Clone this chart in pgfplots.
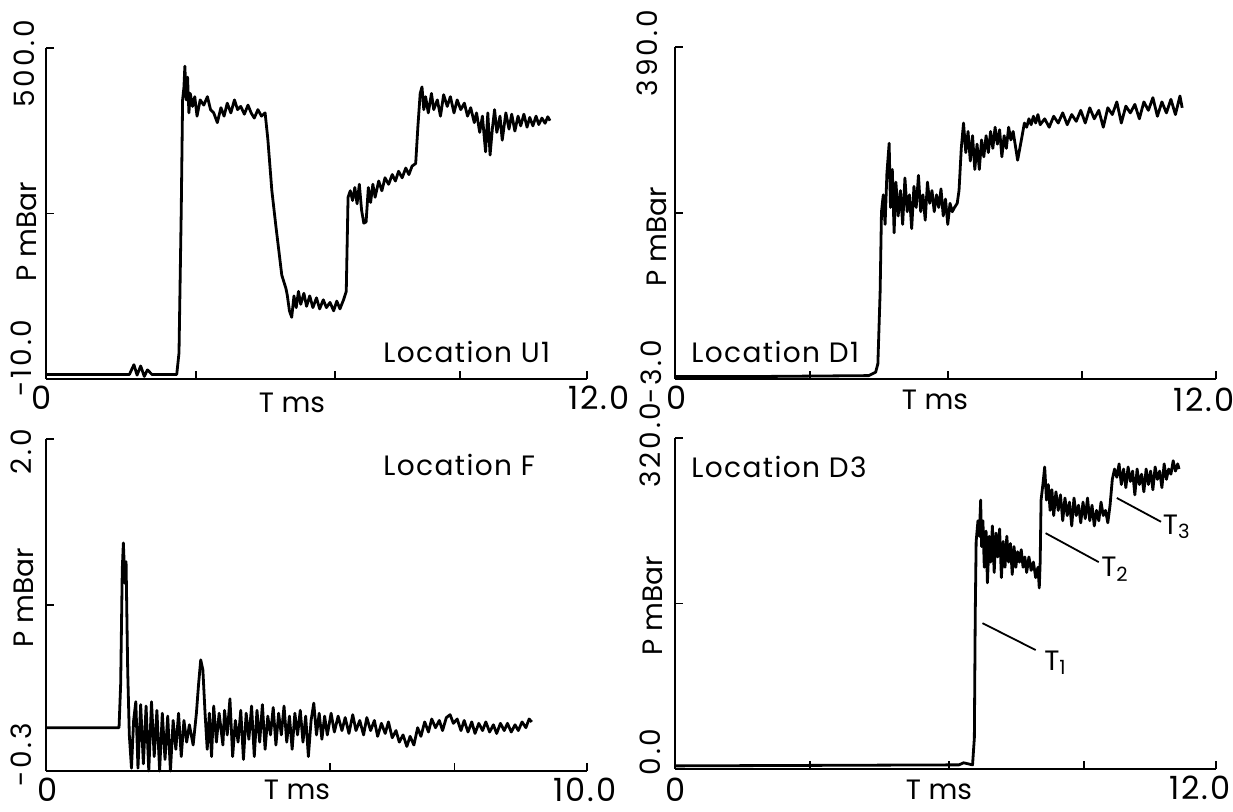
\documentclass[border=0pt]{standalone}
\usepackage{fontspec}
\setmainfont{Poppins}
\usepackage{pgfplots}
\pgfplotsset{compat=1.18}
\pgfplotsset{panel/.style={scale only axis, width=270.5pt, height=165.5pt,
  axis x line*=bottom, axis y line*=left, axis line style={line width=1pt,-},
  tick align=inside, major tick length=4pt, tick style={line width=0.9pt,black},
  xticklabels={}, yticklabels={}, clip=false, anchor=south west},
  trace/.style={black, line width=1.4pt, no markers, line join=round}}
\newcommand{\tk}{\fontsize{16}{16}\selectfont\addfontfeature{LetterSpace=6}}
\newcommand{\yk}{\fontsize{14}{14}\selectfont\addfontfeature{LetterSpace=10}}
\newcommand{\lc}{\fontsize{14}{14}\selectfont\addfontfeature{LetterSpace=5}}
\newcommand{\lb}{\fontsize{14}{14}\selectfont}
\begin{document}
\begin{tikzpicture}
\useasboundingbox (0,0) rectangle (616.5pt,406pt);
% ---------------- Panel 1: Location U1
\begin{axis}[panel, at={(23pt,216.5pt)}, height=165.5pt,
  xmin=0, xmax=12, ymin=-10, ymax=500,
  xtick={0,3.33,6.41,9.18,12}, ytick={-10,245,500}]
\addplot[trace] coordinates {
(0,-3)(1.0,-3)(1.85,-3)(1.95,12)(2.02,-4)(2.1,10)(2.18,-6)(2.25,4)(2.35,-3)(2.9,-3)
(2.95,30)(3.0,250)(3.03,420)(3.06,440)(3.08,472)(3.11,420)(3.14,455)(3.17,400)(3.2,430)
(3.25,410)(3.3,425)(3.35,395)(3.42,420)(3.5,412)(3.58,425)(3.65,405)(3.72,400)(3.8,385)
(3.88,408)(3.95,395)(4.02,415)(4.1,400)(4.18,420)(4.25,405)(4.32,410)(4.4,398)(4.48,412)
(4.55,400)(4.62,392)(4.7,405)(4.78,395)(4.86,400)(4.92,360)(5.01,280)(5.10,225)(5.23,150)
(5.32,130)(5.35,120)(5.4,95)(5.45,85)(5.5,118)(5.55,100)(5.6,125)(5.65,105)(5.72,122)
(5.78,102)(5.85,118)(5.92,100)(6.0,115)(6.07,98)(6.15,112)(6.22,100)(6.3,108)(6.38,95)
(6.45,110)(6.52,98)(6.6,112)(6.66,125)(6.7,270)(6.75,280)(6.8,265)(6.85,285)(6.9,260)
(6.95,290)(7.0,250)(7.05,230)(7.1,232)(7.15,285)(7.2,262)(7.25,290)(7.3,270)(7.38,295)
(7.45,280)(7.52,300)(7.6,290)(7.68,305)(7.75,295)(7.82,310)(7.9,300)(7.98,315)(8.05,305)
(8.12,318)(8.2,322)(8.25,380)(8.3,430)(8.34,440)(8.38,405)(8.42,425)(8.48,400)(8.55,430)
(8.6,405)(8.68,420)(8.75,395)(8.82,428)(8.9,410)(8.97,425)(9.05,400)(9.12,420)(9.2,405)
(9.28,415)(9.35,395)(9.42,408)(9.5,385)(9.55,400)(9.62,370)(9.68,395)(9.75,340)(9.8,400)
(9.85,335)(9.9,375)(9.95,405)(10.0,370)(10.07,395)(10.12,358)(10.2,400)(10.27,375)(10.33,398)
(10.4,372)(10.47,395)(10.53,380)(10.6,398)(10.67,378)(10.73,393)(10.8,380)(10.87,395)
(10.93,382)(11.0,392)(11.07,384)(11.13,394)(11.18,388)};
\end{axis}
% ---------------- Panel 2: Location D1
\begin{axis}[panel, at={(337.5pt,216.5pt)}, height=166pt,
  xmin=0, xmax=12, ymin=-3, ymax=390,
  xtick={0,3,6.06,9.03,12}, ytick={-3,193.5,390}]
\addplot[trace] coordinates {
(0,0)(2.0,0)(4.3,1)(4.45,5)(4.5,15)(4.55,100)(4.58,195)(4.62,215)(4.66,180)(4.7,240)
(4.75,276)(4.78,200)(4.82,245)(4.86,170)(4.9,230)(4.95,190)(5.0,220)(5.05,180)(5.1,235)
(5.15,195)(5.2,215)(5.25,175)(5.3,225)(5.35,200)(5.4,238)(5.45,195)(5.5,215)(5.55,185)
(5.6,230)(5.65,205)(5.7,220)(5.75,195)(5.8,215)(5.85,200)(5.9,222)(5.95,190)(6.0,210)
(6.05,180)(6.1,205)(6.15,195)(6.2,200)(6.26,205)(6.3,220)(6.35,270)(6.4,300)(6.45,265)
(6.5,290)(6.55,255)(6.6,285)(6.65,245)(6.7,275)(6.75,245)(6.8,280)(6.85,260)(6.9,285)
(6.95,265)(7.0,290)(7.05,270)(7.1,295)(7.15,275)(7.2,292)(7.25,260)(7.3,285)(7.35,270)
(7.4,295)(7.45,280)(7.5,290)(7.6,256)(7.7,285)(7.75,300)(7.8,295)(7.85,305)(7.9,298)
(7.95,308)(8.0,300)(8.05,310)(8.1,298)(8.2,305)(8.3,295)(8.4,308)(8.5,300)(8.6,312)
(8.7,298)(8.8,310)(8.9,302)(9.0,315)(9.1,300)(9.2,318)(9.3,305)(9.4,315)(9.5,295)
(9.6,318)(9.7,310)(9.8,325)(9.9,300)(10.0,320)(10.1,312)(10.2,322)(10.3,305)(10.4,325)
(10.5,315)(10.6,330)(10.7,308)(10.8,325)(10.9,312)(11.0,328)(11.1,310)(11.2,332)(11.25,318)};
\end{axis}
% ---------------- Panel 3: Location F
\begin{axis}[panel, at={(23pt,20.5pt)}, height=166pt,
  xmin=0, xmax=10, ymin=-0.3, ymax=2.0,
  xtick={0,5.25,7.55,10}, ytick={-0.3,0.85,2.0}]
\addplot[trace] coordinates {
(0,0)(1.35,0)(1.38,0.3)(1.41,1.1)(1.43,1.28)(1.46,1.0)(1.48,1.15)(1.51,0.4)(1.54,-0.05)
(1.58,-0.28)(1.62,0.05)(1.66,0.18)(1.7,-0.28)(1.75,0.16)(1.8,-0.25)(1.85,0.15)(1.9,-0.3)
(1.95,0.18)(2.0,-0.2)(2.05,0.12)(2.1,-0.3)(2.15,0.1)(2.2,-0.22)(2.25,0.08)(2.3,-0.3)
(2.35,0.05)(2.4,-0.15)(2.45,0.1)(2.5,-0.2)(2.55,0.05)(2.6,-0.1)(2.65,0.02)(2.72,-0.12)
(2.78,0.1)(2.82,0.3)(2.86,0.47)(2.9,0.4)(2.94,0.1)(2.98,-0.15)(3.02,0.1)(3.06,-0.2)
(3.1,0.15)(3.15,-0.1)(3.2,0.1)(3.27,-0.12)(3.3,0.12)(3.35,-0.05)(3.4,0.2)(3.45,-0.2)
(3.5,0.05)(3.55,-0.1)(3.6,0.12)(3.65,-0.22)(3.7,0.1)(3.75,-0.08)(3.8,0.15)(3.85,-0.2)
(3.9,0.12)(3.95,-0.1)(4.0,0.16)(4.05,-0.15)(4.1,0.08)(4.15,-0.05)(4.2,0.14)(4.25,-0.12)
(4.3,0.1)(4.35,-0.05)(4.4,0.15)(4.45,-0.1)(4.5,0.08)(4.55,-0.15)(4.6,0.1)(4.65,-0.05)
(4.7,0.12)(4.75,-0.1)(4.8,0.08)(4.85,-0.2)(4.9,0.05)(4.95,0.17)(5.0,-0.05)(5.05,0.1)
(5.1,-0.08)(5.15,0.08)(5.2,-0.05)(5.27,0.1)(5.33,-0.03)(5.4,0.08)(5.47,-0.02)(5.53,0.07)
(5.6,-0.04)(5.67,0.09)(5.73,-0.02)(5.8,0.05)(5.87,-0.05)(5.93,0.07)(6.0,-0.02)(6.07,0.05)
(6.13,-0.06)(6.2,0.03)(6.27,-0.04)(6.33,0.04)(6.4,-0.07)(6.47,-0.02)(6.53,-0.1)(6.6,-0.05)
(6.67,-0.13)(6.73,-0.06)(6.8,-0.12)(6.87,0.0)(6.93,-0.06)(7.0,0.04)(7.07,-0.03)(7.13,0.06)
(7.2,0.0)(7.27,0.05)(7.33,-0.02)(7.4,0.07)(7.47,0.09)(7.53,0.03)(7.6,0.06)(7.67,-0.02)
(7.73,0.05)(7.8,-0.03)(7.87,0.04)(7.93,-0.04)(8.0,0.03)(8.07,-0.02)(8.13,0.04)(8.2,-0.03)
(8.27,0.02)(8.33,-0.04)(8.4,0.03)(8.47,-0.02)(8.53,0.03)(8.6,-0.03)(8.67,0.02)(8.73,-0.02)
(8.8,0.04)(8.87,0.0)(8.93,0.06)(8.98,0.04)};
\end{axis}
% ---------------- Panel 4: Location D3
\begin{axis}[panel, at={(337.5pt,21.5pt)}, height=165.5pt,
  xmin=0, xmax=12, ymin=0, ymax=320,
  xtick={0,3,6.07,9.07,12}, ytick={0,160,320}]
\addplot[trace] coordinates {
(0,3)(6.3,4)(6.4,6)(6.5,5)(6.6,4)(6.64,30)(6.66,150)(6.68,220)(6.72,240)(6.75,225)
(6.78,260)(6.8,215)(6.83,240)(6.86,195)(6.9,230)(6.93,180)(6.97,225)(7.0,200)(7.04,235)
(7.08,190)(7.12,228)(7.16,205)(7.2,232)(7.24,185)(7.28,220)(7.32,195)(7.36,225)(7.4,200)
(7.44,218)(7.48,188)(7.52,215)(7.56,195)(7.6,210)(7.64,200)(7.68,212)(7.72,195)(7.76,205)
(7.8,190)(7.85,205)(7.9,192)(7.95,200)(8.0,185)(8.05,195)(8.08,175)(8.1,200)(8.12,260)
(8.16,275)(8.2,292)(8.24,260)(8.28,275)(8.32,250)(8.36,270)(8.4,245)(8.45,268)(8.5,250)
(8.55,265)(8.6,240)(8.65,262)(8.7,245)(8.75,258)(8.8,235)(8.85,262)(8.9,245)(8.95,255)
(9.0,238)(9.05,258)(9.1,242)(9.15,262)(9.2,240)(9.25,255)(9.3,235)(9.35,250)(9.4,240)
(9.45,258)(9.5,245)(9.55,250)(9.6,238)(9.65,255)(9.7,280)(9.75,290)(9.8,282)(9.85,295)
(9.9,275)(9.95,290)(10.0,272)(10.05,292)(10.1,278)(10.15,288)(10.2,265)(10.25,290)
(10.3,275)(10.35,285)(10.4,268)(10.45,290)(10.5,275)(10.55,288)(10.6,270)(10.65,292)
(10.7,280)(10.75,288)(10.8,272)(10.85,295)(10.9,280)(10.95,290)(11.0,285)(11.05,298)
(11.1,288)(11.15,295)(11.18,290)};
\draw[line width=0.9pt] (axis cs:6.82,141) -- (axis cs:8.0,115);
\draw[line width=0.9pt] (axis cs:8.22,228) -- (axis cs:9.4,200);
\draw[line width=0.9pt] (axis cs:9.8,262) -- (axis cs:10.78,239);
\node[font=\lb] at (axis cs:8.44,103) {T\textsubscript{1}};
\node[font=\lb] at (axis cs:9.76,193) {T\textsubscript{2}};
\node[font=\lb] at (axis cs:11.13,234) {T\textsubscript{3}};
\end{axis}
% ---------------- Texts
% panel 1
\node[font=\lc, anchor=west, inner sep=0pt] at (191.5pt,230pt) {Location U1};
\node[font=\lb, rotate=90] at (13.5pt,290pt) {P mBar};
\node[font=\lb] at (146pt,204.5pt) {T ms};
\node[font=\tk] at (21pt,207pt) {0};
\node[font=\tk] at (299.5pt,207pt) {12.0};
\node[font=\yk, rotate=90] at (10.5pt,227pt) {-10.0};
\node[font=\yk, rotate=90] at (12pt,374pt) {500.0};
% panel 2
\node[font=\lc, anchor=west, inner sep=0pt] at (345.5pt,230pt) {Location D1};
\node[font=\lb, rotate=90] at (328.5pt,287.5pt) {P mBar};
\node[font=\lb] at (467.5pt,206pt) {T ms};
\node[font=\tk] at (338.5pt,207pt) {0};
\node[font=\tk] at (602pt,206pt) {12.0};
\node[font=\yk, rotate=90] at (325.5pt,220pt) {-3.0};
\node[font=\yk, rotate=90] at (323.5pt,379.5pt) {390.0};
% panel 3
\node[font=\lc, anchor=west, inner sep=0pt] at (191.5pt,173.5pt) {Location F};
\node[font=\lb, rotate=90] at (12pt,107pt) {P mBar};
\node[font=\lb, inner sep=0pt] at (148.5pt,11pt) {T ms};
\node[font=\tk, inner sep=0pt] at (24pt,11pt) {0};
\node[font=\tk, inner sep=0pt] at (292.5pt,11pt) {10.0};
\node[font=\yk, rotate=90] at (10.5pt,28.5pt) {-0.3};
\node[font=\yk, rotate=90] at (10.5pt,180pt) {2.0};
% panel 4
\node[font=\lc, anchor=west, inner sep=0pt] at (345.5pt,172.5pt) {Location D3};
\node[font=\lb, rotate=90] at (326.5pt,103pt) {P mBar};
\node[font=\lb, inner sep=0pt] at (469.5pt,11pt) {T ms};
\node[font=\tk, inner sep=0pt] at (338pt,11pt) {0};
\node[font=\tk, inner sep=0pt] at (600pt,12pt) {12.0};
\node[font=\yk, rotate=90] at (325pt,30pt) {0.0};
\node[font=\yk, rotate=90] at (325pt,183.5pt) {320.0};
\end{tikzpicture}
\end{document}
